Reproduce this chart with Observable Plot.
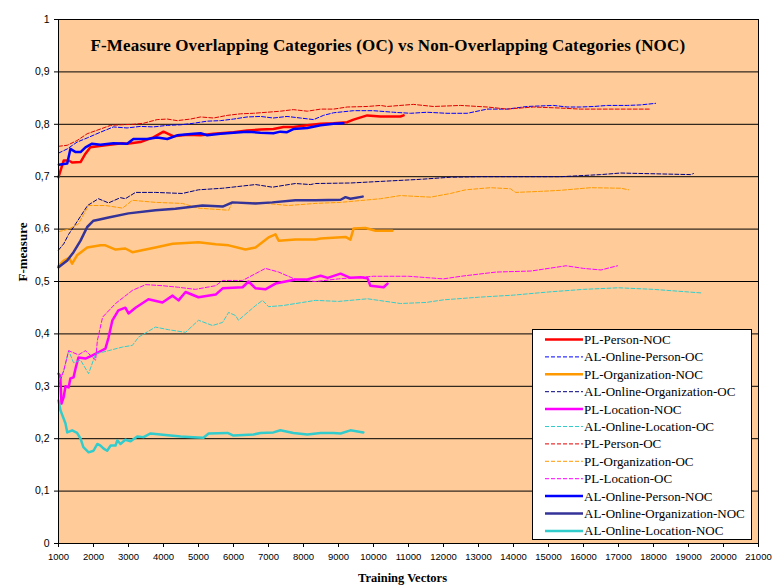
<!DOCTYPE html>
<html>
<head>
<meta charset="utf-8">
<script src="https://cdn.jsdelivr.net/npm/d3@7"></script>
<script src="https://cdn.jsdelivr.net/npm/@observablehq/plot@0.6"></script>
<style>
  html, body { margin: 0; padding: 0; background: #ffffff; }
  #wrap { position: relative; width: 772px; height: 585px; }
  #legend { position: absolute; left: 0; top: 0; pointer-events: none; }
</style>
</head>
<body>
<div id="wrap"></div>
<script>
// ---------------- DATA ----------------
const titleText = "F-Measure Overlapping Categories (OC) vs Non-Overlapping Categories (NOC)";
const xLabel = "Training Vectors";
const yLabel = "F-measure";
const xTicks = [1000,2000,3000,4000,5000,6000,7000,8000,9000,10000,11000,12000,13000,14000,15000,16000,17000,18000,19000,20000,21000];
const yTicks = [0,0.1,0.2,0.3,0.4,0.5,0.6,0.7,0.8,0.9,1];
const gridTicks = [0.1,0.2,0.3,0.4,0.5,0.6,0.7,0.8,0.9];

const plPersonNOC = [[1000,0.699],[1150,0.731],[1290,0.731],[1390,0.727],[1630,0.728],[1770,0.744],[1910,0.756],[2340,0.760],[2820,0.764],[2960,0.763],[3340,0.766],[3710,0.775],[4000,0.786],[4290,0.777],[4680,0.780],[5060,0.779],[5430,0.782],[6000,0.785],[6390,0.788],[6770,0.790],[7140,0.791],[7430,0.795],[7710,0.795],[8110,0.798],[8490,0.801],[8860,0.802],[9250,0.804],[9430,0.809],[9820,0.817],[10200,0.815],[10770,0.815],[10860,0.817]];
const alOnlinePersonOC = [[1000,0.745],[1250,0.753],[1530,0.766],[1820,0.774],[2200,0.785],[2570,0.795],[2960,0.793],[3340,0.796],[3710,0.795],[4110,0.798],[4490,0.799],[4860,0.802],[5250,0.806],[5630,0.807],[6000,0.810],[6390,0.814],[6770,0.815],[7140,0.812],[7530,0.815],[7910,0.812],[8290,0.809],[8570,0.817],[8860,0.822],[9430,0.826],[9990,0.826],[10570,0.823],[11060,0.821],[11530,0.823],[12100,0.821],[12680,0.821],[13250,0.829],[13820,0.829],[14390,0.834],[15140,0.836],[15530,0.833],[15910,0.833],[16290,0.834],[16680,0.836],[17250,0.836],[17630,0.837],[18060,0.840]];
const plOrganizationNOC = [[1000,0.530],[1150,0.540],[1300,0.545],[1390,0.534],[1530,0.550],[1820,0.565],[2200,0.569],[2340,0.569],[2630,0.561],[2910,0.563],[3110,0.556],[3490,0.561],[3770,0.565],[4260,0.572],[5000,0.575],[5490,0.571],[5860,0.569],[6340,0.561],[6630,0.565],[7000,0.584],[7200,0.590],[7290,0.578],[7770,0.580],[8340,0.580],[8490,0.582],[9200,0.585],[9340,0.580],[9430,0.601],[9770,0.602],[10060,0.597],[10540,0.597]];
const alOnlineOrganizationOC = [[1000,0.560],[1150,0.572],[1290,0.590],[1490,0.610],[1830,0.645],[2140,0.658],[2430,0.650],[2770,0.660],[2910,0.658],[3200,0.670],[3770,0.670],[4540,0.668],[5000,0.675],[5690,0.678],[6630,0.685],[7110,0.680],[7770,0.687],[8200,0.685],[8340,0.687],[9340,0.688],[10200,0.691],[11340,0.695],[12200,0.699],[13060,0.700],[14200,0.700],[15340,0.700],[16490,0.704],[17060,0.707],[19060,0.704],[19140,0.706]];
const plLocationNOC = [[1000,0.324],[1050,0.320],[1086,0.267],[1150,0.280],[1200,0.300],[1290,0.298],[1340,0.315],[1430,0.317],[1490,0.335],[1570,0.355],[1770,0.353],[1970,0.359],[2140,0.365],[2340,0.372],[2430,0.393],[2540,0.426],[2710,0.445],[2910,0.450],[3000,0.439],[3200,0.450],[3570,0.466],[3970,0.460],[4260,0.473],[4430,0.464],[4630,0.480],[5000,0.470],[5490,0.475],[5690,0.487],[6260,0.489],[6430,0.500],[6630,0.487],[6910,0.485],[7200,0.496],[7770,0.504],[8110,0.504],[8490,0.511],[8690,0.507],[9060,0.515],[9340,0.507],[9630,0.508],[9830,0.506],[9910,0.492],[10290,0.489],[10400,0.496]];
const alOnlineLocationOC = [[1000,0.310],[1150,0.330],[1290,0.368],[1430,0.345],[1630,0.350],[1860,0.324],[2060,0.362],[2430,0.368],[2830,0.375],[3110,0.378],[3290,0.394],[3770,0.413],[4140,0.408],[4630,0.403],[5000,0.426],[5400,0.416],[5690,0.422],[5860,0.441],[6060,0.435],[6140,0.426],[6630,0.454],[6830,0.464],[7000,0.452],[7400,0.454],[7970,0.460],[8340,0.464],[9000,0.462],[9830,0.467],[10770,0.458],[11500,0.460],[12000,0.465],[13000,0.470],[14000,0.474],[15000,0.480],[16000,0.485],[17000,0.488],[18000,0.485],[19000,0.480],[19400,0.478]];
const plPersonOC = [[1000,0.758],[1250,0.760],[1530,0.769],[1820,0.782],[2200,0.791],[2490,0.798],[2770,0.799],[3140,0.800],[3430,0.802],[3820,0.809],[4110,0.810],[4390,0.807],[4770,0.810],[5060,0.814],[5430,0.812],[5820,0.817],[6200,0.820],[6570,0.821],[6960,0.823],[7340,0.825],[7710,0.828],[8110,0.825],[8490,0.829],[8860,0.829],[9250,0.833],[9820,0.834],[10200,0.836],[10390,0.834],[11140,0.838],[11710,0.834],[12490,0.836],[13250,0.833],[13820,0.829],[14570,0.833],[15340,0.831],[15910,0.829],[16680,0.829],[17250,0.829],[17890,0.829]];
const plOrganizationOC = [[1000,0.595],[1290,0.600],[1570,0.610],[1860,0.645],[2340,0.645],[2830,0.640],[3110,0.655],[3770,0.651],[4540,0.649],[5000,0.640],[5860,0.636],[5970,0.651],[6630,0.651],[7570,0.645],[8340,0.649],[9060,0.651],[10200,0.658],[10770,0.664],[11630,0.661],[12200,0.668],[12630,0.675],[13340,0.679],[13910,0.677],[14060,0.670],[14770,0.672],[15340,0.674],[16200,0.679],[17060,0.678],[17290,0.675]];
const plLocationOC = [[1000,0.300],[1150,0.330],[1290,0.368],[1570,0.360],[1770,0.368],[2060,0.350],[2110,0.387],[2260,0.432],[2630,0.458],[3110,0.483],[3490,0.494],[3970,0.492],[4430,0.489],[4910,0.485],[5490,0.492],[5690,0.502],[6260,0.502],[6630,0.515],[6910,0.525],[7290,0.518],[7770,0.504],[8340,0.500],[9000,0.505],[10000,0.510],[11000,0.510],[12000,0.505],[12500,0.510],[13500,0.518],[14500,0.520],[15500,0.530],[16000,0.525],[16500,0.522],[16970,0.530]];
const alOnlinePersonNOC = [[1010,0.723],[1250,0.725],[1340,0.753],[1490,0.747],[1630,0.747],[1770,0.756],[1960,0.763],[2200,0.761],[2570,0.764],[2960,0.763],[3140,0.772],[3530,0.772],[3820,0.775],[4110,0.772],[4390,0.779],[4860,0.782],[5060,0.783],[5250,0.779],[5630,0.782],[6000,0.784],[6390,0.786],[6770,0.784],[7140,0.783],[7340,0.786],[7530,0.785],[7710,0.791],[8110,0.793],[8490,0.798],[8860,0.801],[9140,0.802]];
const alOnlineOrganizationNOC = [[1000,0.527],[1250,0.540],[1430,0.556],[1630,0.578],[1820,0.604],[2000,0.616],[2140,0.618],[2430,0.622],[3000,0.630],[3770,0.636],[4340,0.639],[5110,0.645],[5690,0.643],[5970,0.651],[6630,0.649],[7110,0.651],[7770,0.655],[8340,0.655],[9060,0.656],[9200,0.661],[9340,0.658],[9690,0.662]];
const alOnlineLocationNOC = [[1000,0.273],[1057,0.254],[1200,0.229],[1250,0.212],[1390,0.216],[1530,0.211],[1630,0.200],[1710,0.184],[1860,0.174],[2000,0.177],[2110,0.190],[2200,0.187],[2290,0.181],[2390,0.177],[2490,0.187],[2630,0.187],[2680,0.197],[2770,0.190],[2910,0.198],[3060,0.195],[3250,0.204],[3430,0.203],[3630,0.210],[3910,0.208],[4200,0.206],[4490,0.204],[4860,0.203],[5140,0.202],[5290,0.210],[5830,0.211],[6000,0.206],[6570,0.208],[6770,0.211],[7140,0.212],[7340,0.216],[7710,0.211],[8110,0.208],[8490,0.211],[8860,0.211],[9060,0.210],[9340,0.216],[9710,0.212]];

const seriesNames = ["PL-Person-NOC","AL-Online-Person-OC","PL-Organization-NOC","AL-Online-Organization-OC","PL-Location-NOC","AL-Online-Location-OC","PL-Person-OC","PL-Organization-OC","PL-Location-OC","AL-Online-Person-NOC","AL-Online-Organization-NOC","AL-Online-Location-NOC"];
const seriesData = [plPersonNOC, alOnlinePersonOC, plOrganizationNOC, alOnlineOrganizationOC, plLocationNOC, alOnlineLocationOC, plPersonOC, plOrganizationOC, plLocationOC, alOnlinePersonNOC, alOnlineOrganizationNOC, alOnlineLocationNOC];
const seriesColors = ["#FF0000","#0000FF","#FF9900","#000080","#FF00FF","#33CCCC","#E00000","#FF9900","#FF00FF","#0000FF","#333399","#33CCCC"];
const seriesDashed = [false,true,false,true,false,true,true,true,true,false,false,false];

// ---------------- CHART ----------------
const serif = "'Liberation Serif', 'Times New Roman', serif";
const lineMarks = seriesData.map((d, i) => Plot.line(d, {
  x: p => p[0], y: p => p[1],
  stroke: seriesColors[i],
  strokeWidth: seriesDashed[i] ? 1 : 2.5,
  strokeDasharray: seriesDashed[i] ? "4,2" : null,
  strokeLinejoin: "round"
}));

const chart = Plot.plot({
  width: 772, height: 585,
  marginLeft: 58, marginRight: 14, marginTop: 19, marginBottom: 42,
  style: { fontFamily: "'Liberation Sans', Arial, sans-serif", fontSize: "10px", background: "#ffffff", color: "#000" },
  x: { domain: [1000, 21000] },
  y: { domain: [0, 1] },
  marks: [
    Plot.frame({ fill: "#FFCC99", stroke: null }),
    Plot.ruleY(gridTicks, { stroke: "#000", strokeWidth: 1 }),
    ...lineMarks,
    Plot.frame({ stroke: "#000", strokeWidth: 1 }),
    Plot.axisX({ ticks: xTicks, tickSize: 4, tickPadding: 6, fontSize: 9.5, label: null, tickFormat: d => String(d) }),
    Plot.axisY({ ticks: yTicks, tickSize: 4, tickPadding: 5, fontSize: 10.5, label: null, tickFormat: d => String(+d.toFixed(1)).replace(".", ",") }),
    Plot.text([titleText], { text: d => d, frameAnchor: "top-left", dx: 32, dy: 26, textAnchor: "start", lineAnchor: "middle", fontSize: 17, fontWeight: "bold", fontFamily: serif, fill: "#000" }),
    Plot.text([yLabel], { text: d => d, frameAnchor: "left", dx: -36, rotate: -90, fontSize: 13, fontWeight: "bold", fontFamily: serif, fill: "#000" }),
    Plot.text([xLabel], { text: d => d, frameAnchor: "bottom", dx: -6, dy: 34, lineAnchor: "middle", fontSize: 12.5, fontWeight: "bold", fontFamily: serif, fill: "#000" })
  ]
});
document.getElementById("wrap").appendChild(chart);
// slightly wider letter spacing for the title, as in the reference
d3.select(chart).selectAll("text").filter(function() { return this.textContent === titleText; })
  .style("letter-spacing", "0.15px");

// ---------------- LEGEND (overlay) ----------------
const lg = d3.select("#wrap").append("svg").attr("id", "legend").attr("width", 772).attr("height", 585);
lg.append("rect").attr("x", 532.5).attr("y", 329.5).attr("width", 219).attr("height", 210)
  .attr("fill", "#fff").attr("stroke", "#000").attr("stroke-width", 1);
seriesNames.forEach((name, i) => {
  const cy = 339.5 + i * 17.4;
  lg.append("line").attr("x1", 545).attr("x2", 583).attr("y1", cy).attr("y2", cy)
    .attr("stroke", seriesColors[i]).attr("stroke-width", seriesDashed[i] ? 1 : 2.5)
    .attr("stroke-dasharray", seriesDashed[i] ? "4,2" : null);
  lg.append("text").attr("x", 584).attr("y", cy + 4.4).text(name)
    .attr("font-family", serif).attr("font-size", 13).attr("fill", "#000");
});
</script>
</body>
</html>
